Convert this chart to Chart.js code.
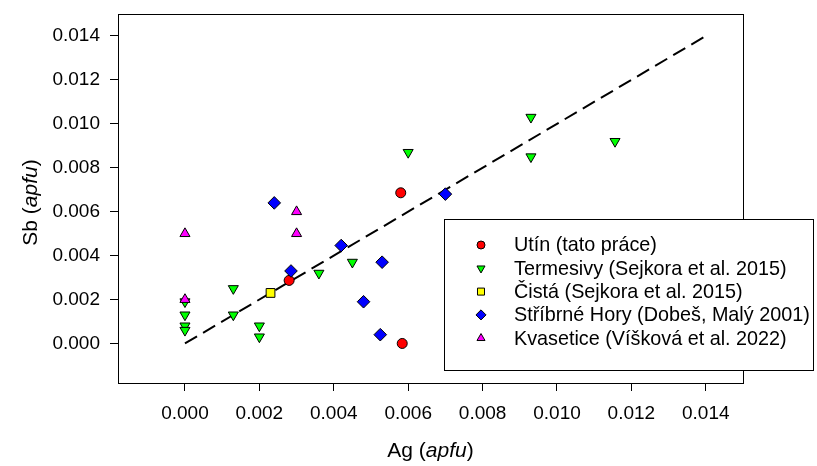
<!DOCTYPE html>
<html>
<head>
<meta charset="utf-8">
<script src="https://cdn.jsdelivr.net/npm/chart.js@4.4.1/dist/chart.umd.min.js"></script>
<style>
  html, body { margin: 0; padding: 0; background: #fff; }
</style>
</head>
<body>
<canvas id="chart" width="817" height="466"></canvas>
<script>
// Ag vs Sb (apfu) data
const utinAg = [0.0058, 0.0028, 0.00584];
const utinSb = [0.00686, 0.00287, 0.0000];

const termAg = [0.0093, 0.01156, 0.0093, 0.0060, 0.0045, 0.0036, 0.0013, 0.0013, 0.0020, 0.0020, 0, 0, 0, 0];
const termSb = [0.0103, 0.0092, 0.0085, 0.0087, 0.0037, 0.0032, 0.0025, 0.0013, 0.0008, 0.0003, 0.0019, 0.0013, 0.0008, 0.0006];

const cistaAg = [0.0023];
const cistaSb = [0.0023];

const stribAg = [0.0024, 0.0042, 0.00285, 0.0053, 0.0048, 0.00525, 0.0070];
const stribSb = [0.0064, 0.00446, 0.0033, 0.0037, 0.0019, 0.0004, 0.0068];

const kvasAg = [0, 0.0030, 0.0030, 0];
const kvasSb = [0.0050, 0.0060, 0.0050, 0.0020];

const fitAg = [0, 0.014];
const fitSb = [0, 0.014];

const xTicks = [0, 0.002, 0.004, 0.006, 0.008, 0.010, 0.012, 0.014];
const yTicks = [0, 0.002, 0.004, 0.006, 0.008, 0.010, 0.012, 0.014];

const FONT = '"Liberation Sans", Arial, sans-serif';

function pts(xs, ys) {
  return xs.map((x, i) => ({ x, y: ys[i] }));
}

function series(label, xs, ys, color, style, radius, rotation, order) {
  return {
    type: 'scatter',
    label,
    data: pts(xs, ys),
    backgroundColor: color,
    borderColor: '#000',
    borderWidth: 1,
    pointStyle: style,
    pointRadius: radius,
    pointRotation: rotation,
    order,
    inLegend: true
  };
}

// Draw "Name (apfu)" with italic apfu
function drawTitle(ctx, name, x, y, rotate) {
  const parts = [[name + ' (', 'normal'], ['apfu', 'italic'], [')', 'normal']];
  ctx.save();
  ctx.translate(x, y);
  if (rotate) ctx.rotate(-Math.PI / 2);
  let total = 0;
  parts.forEach(p => { ctx.font = `${p[1]} 21px ${FONT}`; total += ctx.measureText(p[0]).width; });
  let cx = -total / 2;
  ctx.fillStyle = '#000';
  ctx.textBaseline = 'middle';
  ctx.textAlign = 'left';
  parts.forEach(p => {
    ctx.font = `${p[1]} 21px ${FONT}`;
    ctx.fillText(p[0], cx, 0);
    cx += ctx.measureText(p[0]).width;
  });
  ctx.restore();
}

const framePlugin = {
  id: 'frame',
  beforeDatasetsDraw(chart) {
    const { ctx, chartArea: a } = chart;
    ctx.save();
    ctx.strokeStyle = '#000';
    ctx.lineWidth = 1;
    ctx.strokeRect(a.left + 0.5, a.top + 0.5, a.right - a.left, a.bottom - a.top);
    ctx.restore();
  },
  afterDraw(chart) {
    const { ctx, chartArea: a } = chart;
    drawTitle(ctx, 'Ag', (a.left + a.right) / 2, 451, false);
    drawTitle(ctx, 'Sb', 31, (a.top + a.bottom) / 2 + 4, true);
  }
};

// Legend box that sits over the right edge of the plot
const legendPlugin = {
  id: 'legendBox',
  afterDatasetsDraw(chart) {
    const ctx = chart.ctx;
    const box = { x: 444, y: 219, w: 369, h: 151 };
    ctx.save();
    ctx.fillStyle = '#fff';
    ctx.fillRect(box.x, box.y, box.w, box.h);
    ctx.strokeStyle = '#000';
    ctx.lineWidth = 1;
    ctx.strokeRect(box.x + 0.5, box.y + 0.5, box.w, box.h);
    ctx.font = `19.8px ${FONT}`;
    ctx.textBaseline = 'middle';
    chart.data.datasets.filter(d => d.inLegend).forEach((ds, i) => {
      const y = box.y + 26 + i * 23.3;
      ctx.fillStyle = ds.backgroundColor;
      ctx.strokeStyle = '#000';
      ctx.lineWidth = 1;
      Chart.helpers.drawPoint(ctx, {
        pointStyle: ds.pointStyle,
        radius: ds.pointRadius * 0.8,
        rotation: ds.pointRotation,
        borderWidth: 1
      }, 481, y);
      ctx.fillStyle = '#000';
      ctx.fillText(ds.label, 514, y + 1);
    });
    ctx.restore();
  }
};

new Chart(document.getElementById('chart'), {
  data: {
    datasets: [
      series('Utín (tato práce)', utinAg, utinSb, '#ff0000', 'circle', 5, 0, 5),
      series('Termesivy (Sejkora et al. 2015)', termAg, termSb, '#00ff00', 'triangle', 5.8, 180, 4),
      series('Čistá (Sejkora et al. 2015)', cistaAg, cistaSb, '#ffff00', 'rect', 6.2, 0, 3),
      series('Stříbrné Hory (Dobeš, Malý 2001)', stribAg, stribSb, '#0000ff', 'rectRot', 6.3, 0, 2),
      series('Kvasetice (Víšková et al. 2022)', kvasAg, kvasSb, '#ff00ff', 'triangle', 5.8, 0, 1),
      {
        type: 'line',
        label: 'fit',
        data: pts(fitAg, fitSb),
        borderColor: '#000',
        borderWidth: 2,
        borderDash: [14, 7],
        pointRadius: 0,
        fill: false,
        order: 10
      }
    ]
  },
  options: {
    responsive: false,
    animation: false,
    layout: { padding: { top: 14, right: 74, left: 0, bottom: 0 } },
    plugins: {
      legend: { display: false },
      tooltip: { enabled: false }
    },
    scales: {
      x: {
        type: 'linear',
        min: -0.0018,
        max: 0.015,
        afterFit: s => { s.height = 83; s.paddingLeft = 0; s.paddingRight = 0; },
        afterBuildTicks: s => { s.ticks = xTicks.map(v => ({ value: v })); },
        grid: { drawOnChartArea: false, drawTicks: true, tickLength: 8, color: '#000' },
        border: { display: false },
        ticks: {
          color: '#000',
          padding: 11,
          maxRotation: 0,
          font: { family: FONT, size: 19 },
          callback: v => v.toFixed(3)
        }
      },
      y: {
        type: 'linear',
        min: -0.0018,
        max: 0.015,
        afterFit: s => { s.width = 118; s.paddingTop = 0; s.paddingBottom = 0; },
        afterBuildTicks: s => { s.ticks = yTicks.map(v => ({ value: v })); },
        grid: { drawOnChartArea: false, drawTicks: true, tickLength: 8, color: '#000' },
        border: { display: false },
        ticks: {
          color: '#000',
          padding: 10,
          font: { family: FONT, size: 19 },
          callback: v => v.toFixed(3)
        }
      }
    }
  },
  plugins: [framePlugin, legendPlugin]
});
</script>
</body>
</html>
